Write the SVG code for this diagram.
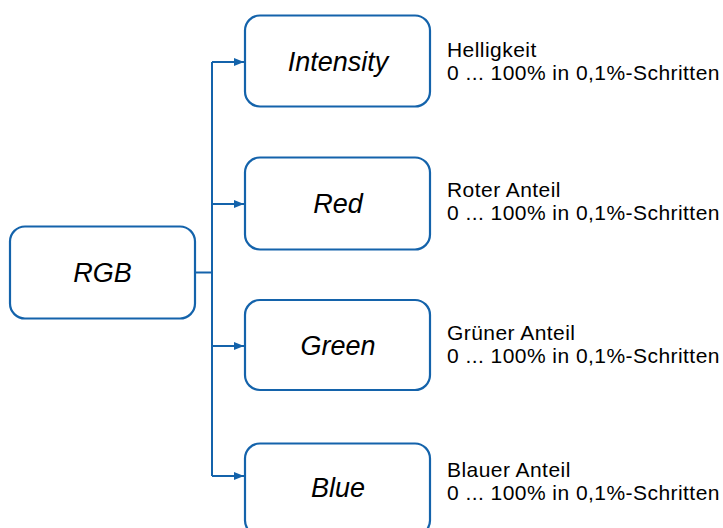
<svg xmlns="http://www.w3.org/2000/svg" width="723" height="528" viewBox="0 0 723 528">
<style>
.box{fill:#fff;stroke:#1463ab;stroke-width:2.2}
.lbl{font-family:"Liberation Sans",Arial,sans-serif;font-style:italic;font-size:27px;fill:#000;text-anchor:middle}
.desc{font-family:"Liberation Sans",Arial,sans-serif;font-size:21px;letter-spacing:0.45px;fill:#000}
.con{fill:none;stroke:#1463ab;stroke-width:2}
</style>
<defs>
<marker id="ah" viewBox="0 0 10 10" refX="10" refY="5" markerWidth="10" markerHeight="10" markerUnits="userSpaceOnUse" orient="auto">
<path d="M0,1 L10,5 L0,9 Z" fill="#1463ab"/>
</marker>
</defs>
<g id="connectors">
<path class="con" d="M195,272.5 H212"/>
<path class="con" d="M212,62 V476"/>
<path class="con" d="M212,62 H244" marker-end="url(#ah)"/>
<path class="con" d="M212,204 H244" marker-end="url(#ah)"/>
<path class="con" d="M212,346 H244" marker-end="url(#ah)"/>
<path class="con" d="M212,476 H244" marker-end="url(#ah)"/>
</g>
<g id="rgb">
<rect class="box" x="10" y="226.5" width="185" height="92" rx="15"/>
<text class="lbl" x="102.5" y="282">RGB</text>
</g>
<g id="intensity">
<rect class="box" x="245" y="15.5" width="185" height="91" rx="15"/>
<text class="lbl" x="338" y="71">Intensity</text>
</g>
<g id="red">
<rect class="box" x="245" y="157.5" width="185" height="92" rx="15"/>
<text class="lbl" x="338" y="212.5">Red</text>
</g>
<g id="green">
<rect class="box" x="245" y="300" width="185" height="90" rx="15"/>
<text class="lbl" x="338" y="355">Green</text>
</g>
<g id="blue">
<rect class="box" x="245" y="443.5" width="185" height="92" rx="15"/>
<text class="lbl" x="338" y="497">Blue</text>
</g>
<g id="desc-intensity">
<text class="desc" x="447" y="57">Helligkeit</text>
<text class="desc" x="447" y="80">0 ... 100% in 0,1%-Schritten</text>
</g>
<g id="desc-red">
<text class="desc" x="447" y="197">Roter Anteil</text>
<text class="desc" x="447" y="220">0 ... 100% in 0,1%-Schritten</text>
</g>
<g id="desc-green">
<text class="desc" x="447" y="340">Grüner Anteil</text>
<text class="desc" x="447" y="363">0 ... 100% in 0,1%-Schritten</text>
</g>
<g id="desc-blue">
<text class="desc" x="447" y="477">Blauer Anteil</text>
<text class="desc" x="447" y="500">0 ... 100% in 0,1%-Schritten</text>
</g>
</svg>
